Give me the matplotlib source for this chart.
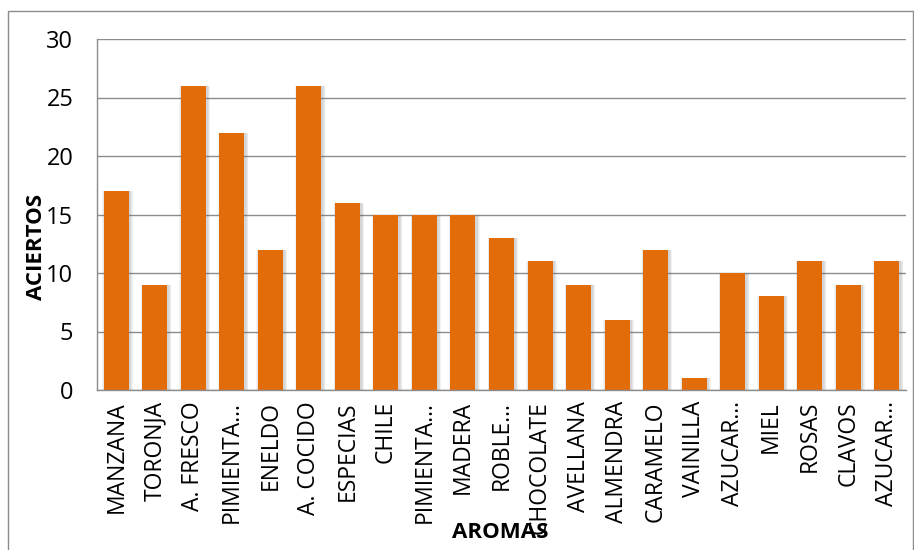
import matplotlib
matplotlib.use("Agg")
import matplotlib.pyplot as plt
import numpy as np
from matplotlib.patches import Rectangle

aromas = ["MANZANA", "TORONJA", "A. FRESCO", "PIMIENTA…", "ENELDO", "A. COCIDO",
          "ESPECIAS", "CHILE", "PIMIENTA…", "MADERA", "ROBLE…", "CHOCOLATE",
          "AVELLANA", "ALMENDRA", "CARAMELO", "VAINILLA", "AZUCAR…", "MIEL",
          "ROSAS", "CLAVOS", "AZUCAR…"]
aciertos = [17, 9, 26, 22, 12, 26, 16, 15, 15, 15, 13, 11, 9, 6, 12, 1, 10, 8, 11, 9, 11]
y_ticks = [0, 5, 10, 15, 20, 25, 30]

plt.rcParams["font.family"] = ["Open Sans", "DejaVu Sans"]

fig = plt.figure(figsize=(9.14, 5.5), dpi=100)
ax = fig.add_axes([97 / 914, 1 - 390 / 550, (906 - 97) / 914, (390 - 39) / 550])

# outer chart frame
fig.patches.append(Rectangle((8 / 914, -0.05), (912.5 - 8) / 914, 1.05 - 11 / 550,
                             transform=fig.transFigure, fill=False,
                             edgecolor="#8c8c8c", linewidth=1.0))

x = np.arange(len(aromas))
bar_w = 0.65

# soft drop shadow behind the bars
for k in range(1, 5):
    ax.bar(x + 0.035, aciertos, width=bar_w + 0.035 * k, color="#606060",
           alpha=0.07, linewidth=0, zorder=2)
ax.bar(x, aciertos, width=bar_w, color="#E36C0A", linewidth=0, zorder=3)

ax.set_xlim(-0.5, len(aromas) - 0.5)
ax.set_ylim(0, 30)
ax.set_yticks(y_ticks)
ax.yaxis.grid(True, color="#8c8c8c", linewidth=1.0, zorder=0)
ax.set_axisbelow(True)
for s in ("top", "right"):
    ax.spines[s].set_visible(False)
for s in ("left", "bottom"):
    ax.spines[s].set_color("#8c8c8c")
    ax.spines[s].set_linewidth(1.0)
    ax.spines[s].set_zorder(4)

ax.set_xticks(x)
ax.set_xticklabels(aromas, rotation=90, fontsize=16.5)
ax.tick_params(axis="x", length=0, pad=8)
ax.tick_params(axis="y", length=0, pad=17, labelsize=17)

fig.text(37 / 914, 1 - 247 / 550, "ACIERTOS", rotation=90, fontsize=16, fontweight="bold",
         ha="center", va="center")
fig.text(500 / 914, 1 - 532 / 550, "AROMAS", fontsize=16, fontweight="bold",
         ha="center", va="center")

fig.savefig("out.png", dpi=100)
